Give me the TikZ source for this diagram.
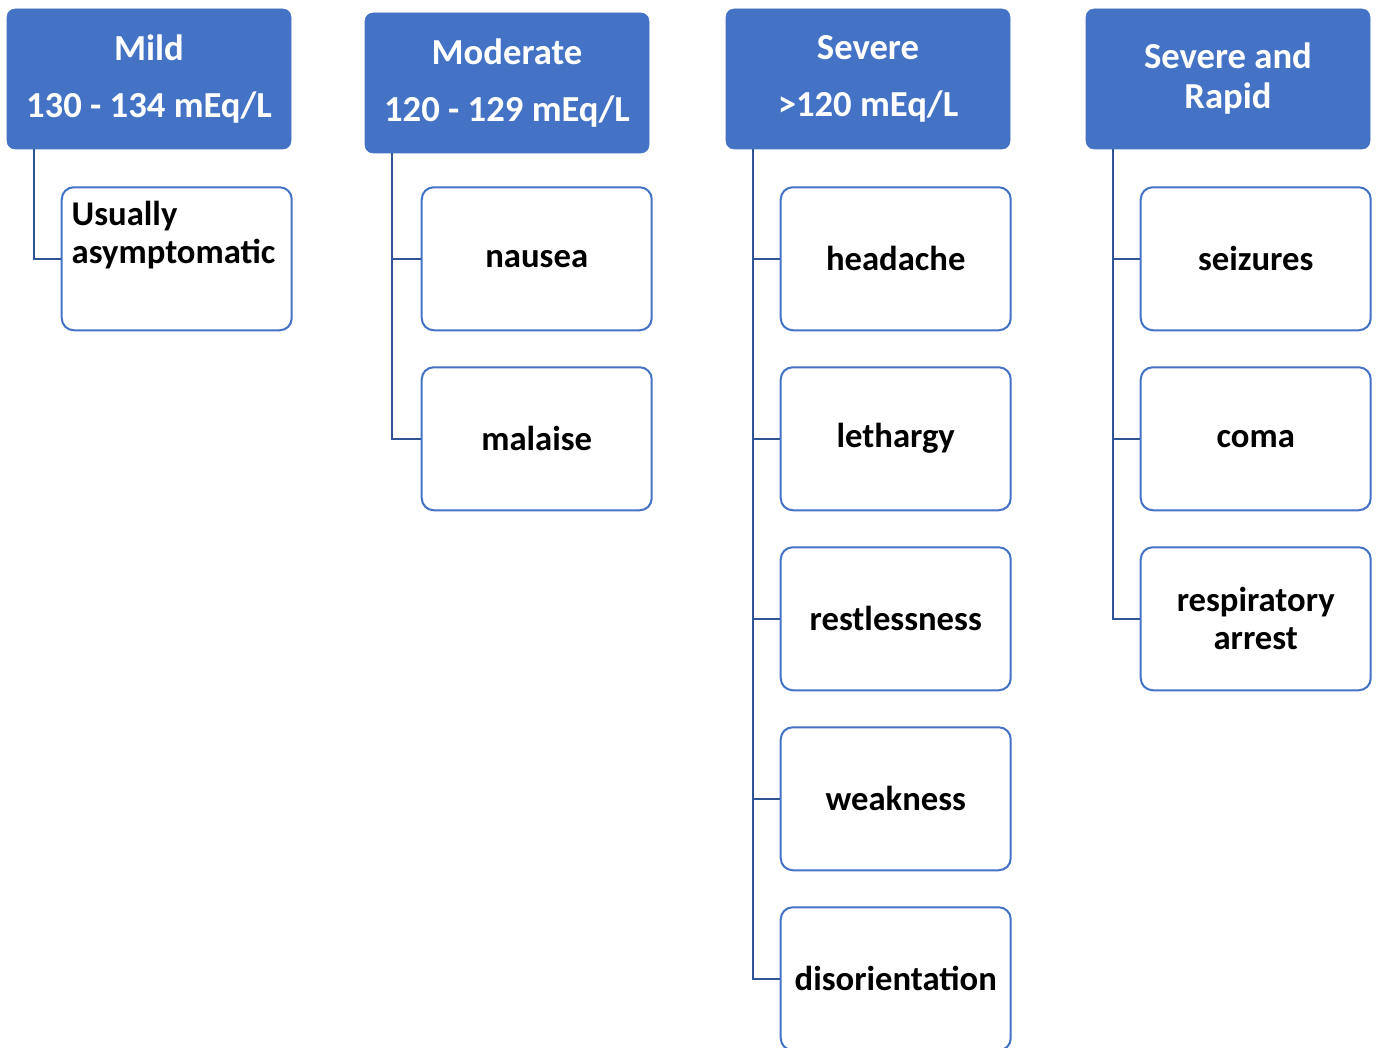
\documentclass[tikz,border=0pt]{standalone}
\usepackage{fontspec}
\setmainfont{Carlito}
\usepackage{xcolor}
\usepackage{tikz}
\usetikzlibrary{positioning}
\definecolor{hdrblue}{HTML}{4472C4}
\definecolor{linkblue}{HTML}{2F5597}
\tikzset{
  head/.style={fill=hdrblue, draw=hdrblue, rounded corners=6pt, align=center, text=white,
               font=\bfseries\fontsize{27.5}{30}\selectfont,
               minimum width=213pt, minimum height=105pt, inner sep=2pt},
  sym/.style={draw=hdrblue, line width=1.5pt, fill=white, rounded corners=9pt, align=center,
              font=\bfseries\fontsize{26}{28.5}\selectfont,
              minimum width=172.5pt, minimum height=107.25pt, inner sep=2pt},
  note/.style={sym, inner xsep=7.5pt, inner ysep=10pt},
  link/.style={draw=linkblue, line width=1.5pt},
}
\begin{document}
\begin{tikzpicture}[x=0.75pt, y=0.75pt, node distance=26.25pt]
\useasboundingbox (0,0) rectangle (1378,-1048);
% headers
\node[head] (mild) at (149,-79) {Mild\\[12.75pt]130 - 134 mEq/L};
\node[head] (mod) at (507,-83) {Moderate\\[12.75pt]120 - 129 mEq/L};
\node[head] (sev) at (868,-79) {Severe\\[12.75pt]>120 mEq/L};
\node[head] (rap) at (1228,-79) {Severe and\\Rapid};
% mild
\node[note, below right=27.75pt and 40.5pt of mild.south west] (m1)
  {\parbox[t][87pt][t]{157.5pt}{\raggedright Usually\\asymptomatic}};
% moderate
\node[sym, below right=24.75pt and 42pt of mod.south west] (o1) {nausea};
\node[sym, below=of o1] (o2) {malaise};
% severe
\node[sym, below right=27.75pt and 40.5pt of sev.south west] (s1) {headache};
\node[sym, below=of s1] (s2) {lethargy};
\node[sym, below=of s2] (s3) {restlessness};
\node[sym, below=of s3] (s4) {weakness};
\node[sym, below=of s4] (s5) {disorientation};
% severe and rapid
\node[sym, below right=27.75pt and 40.5pt of rap.south west] (r1) {seizures};
\node[sym, below=of r1] (r2) {coma};
\node[sym, below=of r2] (r3) {respiratory\\arrest};
% connectors
\draw[link] ([xshift=20.25pt]mild.south west) |- (m1.west);
\draw[link] ([xshift=20.25pt]mod.south west) |- (o1.west);
\draw[link] ([xshift=20.25pt]mod.south west) |- (o2.west);
\draw[link] ([xshift=20.25pt]sev.south west) |- (s1.west);
\draw[link] ([xshift=20.25pt]sev.south west) |- (s2.west);
\draw[link] ([xshift=20.25pt]sev.south west) |- (s3.west);
\draw[link] ([xshift=20.25pt]sev.south west) |- (s4.west);
\draw[link] ([xshift=20.25pt]sev.south west) |- (s5.west);
\draw[link] ([xshift=20.25pt]rap.south west) |- (r1.west);
\draw[link] ([xshift=20.25pt]rap.south west) |- (r2.west);
\draw[link] ([xshift=20.25pt]rap.south west) |- (r3.west);
\end{tikzpicture}
\end{document}
